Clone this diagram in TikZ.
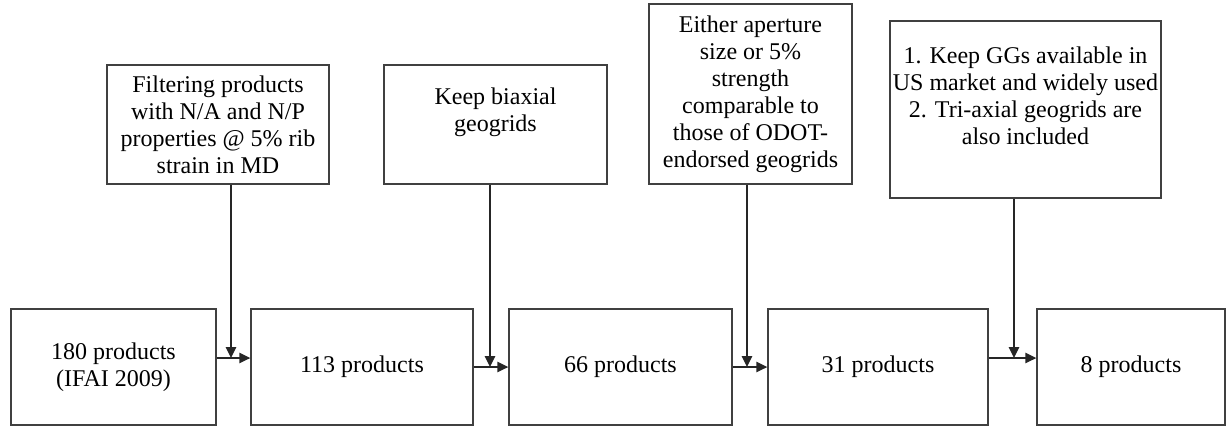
\documentclass[tikz,border=0pt]{standalone}
\usepackage{fontspec}
\setmainfont{Liberation Serif}
\usetikzlibrary{arrows.meta}
\begin{document}
\begin{tikzpicture}[x=1pt,y=-1pt,
  box/.style={draw=black!75, line width=1.4pt, rectangle, inner sep=0pt, align=center,
    font=\fontsize{24}{27}\selectfont},
  txt/.style={inner sep=0pt, align=center, font=\fontsize{24}{27}\selectfont},
  arr/.style={draw=black!85, line width=1.4pt, -{Triangle[length=11pt,width=10.5pt]}}]
\useasboundingbox (0,0) rectangle (1232,429);
% bottom boxes (y from 309 to 425)
\node[box, minimum width=205pt, minimum height=116pt] (b1) at (113.5,367) {180 products\\(IFAI 2009)};
\node[box, minimum width=222pt, minimum height=116pt] (b2) at (362,367) {113 products};
\node[box, minimum width=223pt, minimum height=116pt] (b3) at (620.5,367) {66 products};
\node[box, minimum width=220pt, minimum height=116pt] (b4) at (878,367) {31 products};
\node[box, minimum width=188pt, minimum height=116pt] (b5) at (1131,367) {8 products};
% top boxes
\node[box, minimum width=222pt, minimum height=119pt] (ta) at (218,124.5) {Filtering products\\with N/A and N/P\\properties @ 5\% rib\\strain in MD};
\node[box, minimum width=223pt, minimum height=119pt] (tb) at (495.5,124.5) {};
\node[txt] (tbt) at (495.5,112) {Keep biaxial\\geogrids};
\node[box, minimum width=203pt, minimum height=180pt] (tc) at (750.5,94) {Either aperture\\size or 5\%\\strength\\comparable to\\those of ODOT-\\endorsed geogrids};
\node[box, minimum width=271pt, minimum height=177pt] (td) at (1025.5,109.5) {};
\node[txt] (tdt) at (1025.5,96) {1. Keep GGs available in\\US market and widely used\\2. Tri-axial geogrids are\\also included};
% junction coordinates
\coordinate (j1) at (231,358);
\coordinate (j2) at (490,367);
\coordinate (j3) at (747,367);
\coordinate (j4) at (1014,358);
% horizontal arrows
\draw[arr] (b1.east |- j1) -- (b2.west |- j1);
\draw[arr] (b2.east |- j2) -- (b3.west |- j2);
\draw[arr] (b3.east |- j3) -- (b4.west |- j3);
\draw[arr] (b4.east |- j4) -- (b5.west |- j4);
% vertical arrows
\draw[arr] (ta.south -| j1) -- (j1);
\draw[arr] (tb.south -| j2) -- (j2);
\draw[arr] (tc.south -| j3) -- (j3);
\draw[arr] (td.south -| j4) -- (j4);
\end{tikzpicture}
\end{document}
